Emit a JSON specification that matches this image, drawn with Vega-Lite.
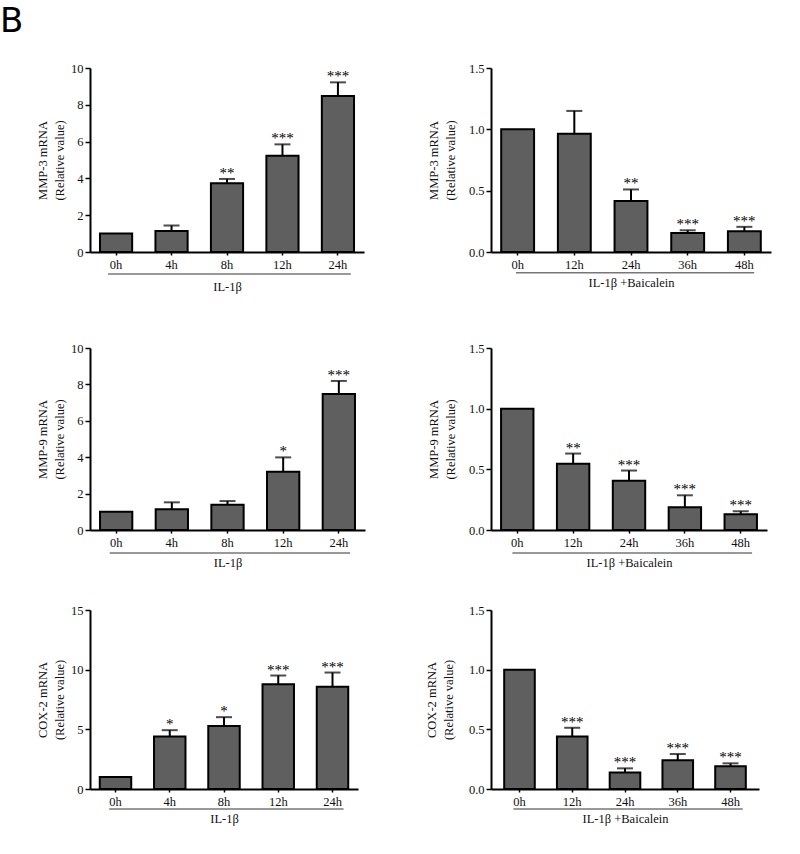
{
  "$schema": "https://vega.github.io/schema/vega-lite/v6.json",
  "padding": {"left": 0, "top": 5, "right": 10, "bottom": 10},
  "title": {"text": "B", "anchor": "start", "frame": "group", "font": "DejaVu Sans", "fontSize": 34, "fontWeight": "normal", "color": "#000", "dx": -90, "offset": 23},
  "config": {
    "view": {"stroke": null},
    "axis": {"grid": false, "labelOverlap": false, "labelFlush": false, "domainColor": "#000", "domainWidth": 2, "tickColor": "#000", "tickWidth": 1.5, "labelFont": "Liberation Serif", "labelFontSize": 12.5, "labelColor": "#111", "titleFont": "Liberation Serif", "titleFontSize": 12.5, "titleFontWeight": "normal", "titleColor": "#111"},
    "axisX": {"tickSize": 3, "labelPadding": 3, "labelAngle": 0},
    "axisY": {"tickSize": 5, "labelPadding": 2, "titleLineHeight": 17, "labelOverlap": false, "tickCount": 12},
    "bar": {"fill": "#5f5f5f", "stroke": "#000", "strokeWidth": 2}
  },
  "datasets": {
    "p1": [
      {"t": "0h", "mean": 1.0, "upper": null, "sig": ""},
      {"t": "4h", "mean": 1.14, "upper": 1.44, "sig": ""},
      {"t": "8h", "mean": 3.74, "upper": 3.97, "sig": "**"},
      {"t": "12h", "mean": 5.23, "upper": 5.85, "sig": "***"},
      {"t": "24h", "mean": 8.48, "upper": 9.22, "sig": "***"}
    ],
    "p2": [
      {"t": "0h", "mean": 1.0, "upper": null, "sig": ""},
      {"t": "12h", "mean": 0.965, "upper": 1.15, "sig": ""},
      {"t": "24h", "mean": 0.415, "upper": 0.51, "sig": "**"},
      {"t": "36h", "mean": 0.155, "upper": 0.177, "sig": "***"},
      {"t": "48h", "mean": 0.169, "upper": 0.205, "sig": "***"}
    ],
    "p3": [
      {"t": "0h", "mean": 1.0, "upper": null, "sig": ""},
      {"t": "4h", "mean": 1.14, "upper": 1.52, "sig": ""},
      {"t": "8h", "mean": 1.39, "upper": 1.59, "sig": ""},
      {"t": "12h", "mean": 3.2, "upper": 3.99, "sig": "*"},
      {"t": "24h", "mean": 7.47, "upper": 8.19, "sig": "***"}
    ],
    "p4": [
      {"t": "0h", "mean": 1.0, "upper": null, "sig": ""},
      {"t": "12h", "mean": 0.545, "upper": 0.63, "sig": "**"},
      {"t": "24h", "mean": 0.405, "upper": 0.49, "sig": "***"},
      {"t": "36h", "mean": 0.187, "upper": 0.286, "sig": "***"},
      {"t": "48h", "mean": 0.129, "upper": 0.154, "sig": "***"}
    ],
    "p5": [
      {"t": "0h", "mean": 1.0, "upper": null, "sig": ""},
      {"t": "4h", "mean": 4.4, "upper": 4.93, "sig": "*"},
      {"t": "8h", "mean": 5.27, "upper": 6.02, "sig": "*"},
      {"t": "12h", "mean": 8.78, "upper": 9.51, "sig": "***"},
      {"t": "24h", "mean": 8.56, "upper": 9.76, "sig": "***"}
    ],
    "p6": [
      {"t": "0h", "mean": 1.0, "upper": null, "sig": ""},
      {"t": "12h", "mean": 0.44, "upper": 0.513, "sig": "***"},
      {"t": "24h", "mean": 0.139, "upper": 0.173, "sig": "***"},
      {"t": "36h", "mean": 0.24, "upper": 0.293, "sig": "***"},
      {"t": "48h", "mean": 0.19, "upper": 0.215, "sig": "***"}
    ]
  },
  "columns": 2,
  "bounds": "flush",
  "align": {"row": "each", "column": "none"},
  "spacing": {"row": 80, "column": 126},
  "concat": [
    {
      "width": 274, "height": 184,
      "data": {"name": "p1"},
      "layer": [
        {"mark": {"type": "bar"}, "encoding": {
          "x": {"field": "t", "type": "nominal", "sort": null, "scale": {"domain": ["0h", "4h", "8h", "12h", "24h"], "paddingInner": 0.42, "paddingOuter": 0.18}, "axis": {"title": "IL-1β", "titlePadding": 10}},
          "y": {"field": "mean", "type": "quantitative", "scale": {"domain": [0, 10], "nice": false}, "axis": {"values": [0, 2, 4, 6, 8, 10], "tickCount": 12, "title": ["MMP-3 mRNA", "(Relative value)"], "titlePadding": 4}}}},
        {"transform": [{"filter": {"field": "upper", "valid": true}}], "mark": {"type": "rule", "color": "#000", "strokeWidth": 2}, "encoding": {
          "x": {"field": "t", "type": "nominal"}, "y": {"field": "mean", "type": "quantitative"}, "y2": {"field": "upper"}}},
        {"transform": [{"filter": {"field": "upper", "valid": true}}], "mark": {"type": "tick", "color": "#000", "thickness": 2}, "encoding": {
          "x": {"field": "t", "type": "nominal"}, "y": {"field": "upper", "type": "quantitative"}, "size": {"value": 16}}},
        {"transform": [{"filter": {"field": "upper", "valid": true}}], "mark": {"type": "text", "font": "Liberation Serif", "fontSize": 15, "baseline": "alphabetic", "dy": -1, "color": "#000"}, "encoding": {
          "x": {"field": "t", "type": "nominal"}, "y": {"field": "upper", "type": "quantitative"}, "text": {"field": "sig"}}},
        {"data": {"values": [{"from": "0h", "to": "24h"}]}, "mark": {"type": "rule", "color": "#777", "strokeWidth": 1.5}, "encoding": {
          "x": {"field": "from", "type": "nominal", "bandPosition": 0.25, "axis": {"title": "IL-1β", "titlePadding": 10}}, "x2": {"field": "to", "bandPosition": 0.9}, "y": {"datum": -1.2}}}
      ]
    },
    {
      "width": 280, "height": 184,
      "data": {"name": "p2"},
      "layer": [
        {"mark": {"type": "bar"}, "encoding": {
          "x": {"field": "t", "type": "nominal", "sort": null, "scale": {"domain": ["0h", "12h", "24h", "36h", "48h"], "paddingInner": 0.42, "paddingOuter": 0.18}, "axis": {"title": "IL-1β +Baicalein", "titlePadding": 6}},
          "y": {"field": "mean", "type": "quantitative", "scale": {"domain": [0, 1.5], "nice": false}, "axis": {"values": [0, 0.5, 1, 1.5], "format": ".1f", "tickCount": 12, "title": ["MMP-3 mRNA", "(Relative value)"], "titlePadding": 11}}}},
        {"transform": [{"filter": {"field": "upper", "valid": true}}], "mark": {"type": "rule", "color": "#000", "strokeWidth": 2}, "encoding": {
          "x": {"field": "t", "type": "nominal"}, "y": {"field": "mean", "type": "quantitative"}, "y2": {"field": "upper"}}},
        {"transform": [{"filter": {"field": "upper", "valid": true}}], "mark": {"type": "tick", "color": "#000", "thickness": 2}, "encoding": {
          "x": {"field": "t", "type": "nominal"}, "y": {"field": "upper", "type": "quantitative"}, "size": {"value": 16}}},
        {"transform": [{"filter": {"field": "upper", "valid": true}}], "mark": {"type": "text", "font": "Liberation Serif", "fontSize": 15, "baseline": "alphabetic", "dy": -1, "color": "#000"}, "encoding": {
          "x": {"field": "t", "type": "nominal"}, "y": {"field": "upper", "type": "quantitative"}, "text": {"field": "sig"}}},
        {"data": {"values": [{"from": "0h", "to": "48h"}]}, "mark": {"type": "rule", "color": "#777", "strokeWidth": 1.5}, "encoding": {
          "x": {"field": "from", "type": "nominal", "bandPosition": 0.45, "axis": {"title": "IL-1β +Baicalein", "titlePadding": 6}}, "x2": {"field": "to", "bandPosition": 0.8}, "y": {"datum": -0.17}}}
      ]
    },
    {
      "width": 275, "height": 198,
      "data": {"name": "p3"},
      "layer": [
        {"mark": {"type": "bar"}, "encoding": {
          "x": {"field": "t", "type": "nominal", "sort": null, "scale": {"domain": ["0h", "4h", "8h", "12h", "24h"], "paddingInner": 0.42, "paddingOuter": 0.18}, "axis": {"title": "IL-1β", "titlePadding": 8}},
          "y": {"field": "mean", "type": "quantitative", "scale": {"domain": [0, 10], "nice": false, "range": [198, 16]}, "axis": {"values": [0, 2, 4, 6, 8, 10], "tickCount": 12, "title": ["MMP-9 mRNA", "(Relative value)"], "titlePadding": 4}}}},
        {"transform": [{"filter": {"field": "upper", "valid": true}}], "mark": {"type": "rule", "color": "#000", "strokeWidth": 2}, "encoding": {
          "x": {"field": "t", "type": "nominal"}, "y": {"field": "mean", "type": "quantitative"}, "y2": {"field": "upper"}}},
        {"transform": [{"filter": {"field": "upper", "valid": true}}], "mark": {"type": "tick", "color": "#000", "thickness": 2}, "encoding": {
          "x": {"field": "t", "type": "nominal"}, "y": {"field": "upper", "type": "quantitative"}, "size": {"value": 16}}},
        {"transform": [{"filter": {"field": "upper", "valid": true}}], "mark": {"type": "text", "font": "Liberation Serif", "fontSize": 15, "baseline": "alphabetic", "dy": -1, "color": "#000"}, "encoding": {
          "x": {"field": "t", "type": "nominal"}, "y": {"field": "upper", "type": "quantitative"}, "text": {"field": "sig"}}},
        {"data": {"values": [{"from": "0h", "to": "24h"}]}, "mark": {"type": "rule", "color": "#777", "strokeWidth": 1.5}, "encoding": {
          "x": {"field": "from", "type": "nominal", "bandPosition": 0.3, "axis": {"title": "IL-1β", "titlePadding": 8}}, "x2": {"field": "to", "bandPosition": 0.85}, "y": {"datum": -1.26}}}
      ]
    },
    {
      "width": 276, "height": 198,
      "data": {"name": "p4"},
      "layer": [
        {"mark": {"type": "bar"}, "encoding": {
          "x": {"field": "t", "type": "nominal", "sort": null, "scale": {"domain": ["0h", "12h", "24h", "36h", "48h"], "paddingInner": 0.42, "paddingOuter": 0.18}, "axis": {"title": "IL-1β +Baicalein", "titlePadding": 8}},
          "y": {"field": "mean", "type": "quantitative", "scale": {"domain": [0, 1.5], "nice": false, "range": [198, 16]}, "axis": {"values": [0, 0.5, 1, 1.5], "format": ".1f", "tickCount": 12, "title": ["MMP-9 mRNA", "(Relative value)"], "titlePadding": 11}}}},
        {"transform": [{"filter": {"field": "upper", "valid": true}}], "mark": {"type": "rule", "color": "#000", "strokeWidth": 2}, "encoding": {
          "x": {"field": "t", "type": "nominal"}, "y": {"field": "mean", "type": "quantitative"}, "y2": {"field": "upper"}}},
        {"transform": [{"filter": {"field": "upper", "valid": true}}], "mark": {"type": "tick", "color": "#000", "thickness": 2}, "encoding": {
          "x": {"field": "t", "type": "nominal"}, "y": {"field": "upper", "type": "quantitative"}, "size": {"value": 16}}},
        {"transform": [{"filter": {"field": "upper", "valid": true}}], "mark": {"type": "text", "font": "Liberation Serif", "fontSize": 15, "baseline": "alphabetic", "dy": -1, "color": "#000"}, "encoding": {
          "x": {"field": "t", "type": "nominal"}, "y": {"field": "upper", "type": "quantitative"}, "text": {"field": "sig"}}},
        {"data": {"values": [{"from": "0h", "to": "48h"}]}, "mark": {"type": "rule", "color": "#777", "strokeWidth": 1.5}, "encoding": {
          "x": {"field": "from", "type": "nominal", "bandPosition": 0.35, "axis": {"title": "IL-1β +Baicalein", "titlePadding": 8}}, "x2": {"field": "to", "bandPosition": 0.85}, "y": {"datum": -0.19}}}
      ]
    },
    {
      "width": 268, "height": 179,
      "data": {"name": "p5"},
      "layer": [
        {"mark": {"type": "bar"}, "encoding": {
          "x": {"field": "t", "type": "nominal", "sort": null, "scale": {"domain": ["0h", "4h", "8h", "12h", "24h"], "paddingInner": 0.42, "paddingOuter": 0.18}, "axis": {"title": "IL-1β", "titlePadding": 5}},
          "y": {"field": "mean", "type": "quantitative", "scale": {"domain": [0, 15], "nice": false}, "axis": {"values": [0, 5, 10, 15], "tickCount": 12, "title": ["COX-2 mRNA", "(Relative value)"], "titlePadding": 4}}}},
        {"transform": [{"filter": {"field": "upper", "valid": true}}], "mark": {"type": "rule", "color": "#000", "strokeWidth": 2}, "encoding": {
          "x": {"field": "t", "type": "nominal"}, "y": {"field": "mean", "type": "quantitative"}, "y2": {"field": "upper"}}},
        {"transform": [{"filter": {"field": "upper", "valid": true}}], "mark": {"type": "tick", "color": "#000", "thickness": 2}, "encoding": {
          "x": {"field": "t", "type": "nominal"}, "y": {"field": "upper", "type": "quantitative"}, "size": {"value": 16}}},
        {"transform": [{"filter": {"field": "upper", "valid": true}}], "mark": {"type": "text", "font": "Liberation Serif", "fontSize": 15, "baseline": "alphabetic", "dy": -1, "color": "#000"}, "encoding": {
          "x": {"field": "t", "type": "nominal"}, "y": {"field": "upper", "type": "quantitative"}, "text": {"field": "sig"}}},
        {"data": {"values": [{"from": "0h", "to": "24h"}]}, "mark": {"type": "rule", "color": "#777", "strokeWidth": 1.5}, "encoding": {
          "x": {"field": "from", "type": "nominal", "bandPosition": 0.3, "axis": {"title": "IL-1β", "titlePadding": 5}}, "x2": {"field": "to", "bandPosition": 0.85}, "y": {"datum": -1.68}}}
      ]
    },
    {
      "width": 268, "height": 179,
      "data": {"name": "p6"},
      "layer": [
        {"mark": {"type": "bar"}, "encoding": {
          "x": {"field": "t", "type": "nominal", "sort": null, "scale": {"domain": ["0h", "12h", "24h", "36h", "48h"], "paddingInner": 0.42, "paddingOuter": 0.25}, "axis": {"title": "IL-1β +Baicalein", "titlePadding": 5}},
          "y": {"field": "mean", "type": "quantitative", "scale": {"domain": [0, 1.5], "nice": false}, "axis": {"values": [0, 0.5, 1, 1.5], "format": ".1f", "tickCount": 12, "title": ["COX-2 mRNA", "(Relative value)"], "titlePadding": 13}}}},
        {"transform": [{"filter": {"field": "upper", "valid": true}}], "mark": {"type": "rule", "color": "#000", "strokeWidth": 2}, "encoding": {
          "x": {"field": "t", "type": "nominal"}, "y": {"field": "mean", "type": "quantitative"}, "y2": {"field": "upper"}}},
        {"transform": [{"filter": {"field": "upper", "valid": true}}], "mark": {"type": "tick", "color": "#000", "thickness": 2}, "encoding": {
          "x": {"field": "t", "type": "nominal"}, "y": {"field": "upper", "type": "quantitative"}, "size": {"value": 16}}},
        {"transform": [{"filter": {"field": "upper", "valid": true}}], "mark": {"type": "text", "font": "Liberation Serif", "fontSize": 15, "baseline": "alphabetic", "dy": -1, "color": "#000"}, "encoding": {
          "x": {"field": "t", "type": "nominal"}, "y": {"field": "upper", "type": "quantitative"}, "text": {"field": "sig"}}},
        {"data": {"values": [{"from": "0h", "to": "48h"}]}, "mark": {"type": "rule", "color": "#777", "strokeWidth": 1.5}, "encoding": {
          "x": {"field": "from", "type": "nominal", "bandPosition": 0.3, "axis": {"title": "IL-1β +Baicalein", "titlePadding": 5}}, "x2": {"field": "to", "bandPosition": 0.9}, "y": {"datum": -0.168}}}
      ]
    }
  ]
}
